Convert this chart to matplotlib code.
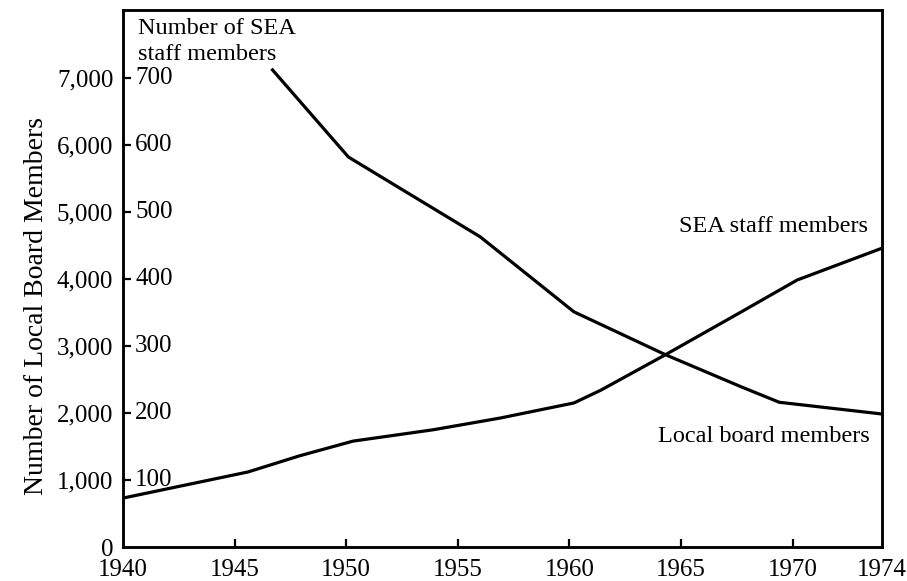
import matplotlib
matplotlib.use("Agg")
import matplotlib.pyplot as plt
import matplotlib.transforms as mtransforms

# Data
local_years = [1946.7, 1950.1, 1956.0, 1960.2, 1964.3, 1967.7, 1969.4, 1974.0]
local_members = [7120, 5820, 4630, 3510, 2870, 2390, 2160, 1985]

sea_years = [1940.0, 1945.6, 1947.9, 1950.3, 1953.9, 1956.9, 1960.2, 1961.4,
             1964.3, 1967.7, 1970.2, 1974.0]
sea_staff = [73, 112, 136, 158, 175, 192.5, 215, 234, 287, 351, 398.5, 446]

x_ticks = [1940, 1945, 1950, 1955, 1960, 1965, 1970, 1974]
local_ticks = [0, 1000, 2000, 3000, 4000, 5000, 6000, 7000]
local_tick_labels = ["0", "1,000", "2,000", "3,000", "4,000", "5,000", "6,000", "7,000"]
staff_ticks = [100, 200, 300, 400, 500, 600, 700]

plt.rcParams['font.family'] = ['Liberation Serif', 'DejaVu Serif']

fig = plt.figure(figsize=(9.07, 5.81), dpi=100)
ax = fig.add_axes([123/907, 34/581, 759/907, 537/581])
ax2 = ax.twinx()

ax.set_xlim(1940, 1974)
ax.set_ylim(0, 8015)
ax2.set_ylim(0, 801.5)

lw = 2.3
ax.plot(local_years, local_members, color='black', lw=lw, solid_joinstyle='round')
ax2.plot(sea_years, sea_staff, color='black', lw=lw, solid_joinstyle='round')

for a in (ax, ax2):
    for s in a.spines.values():
        s.set_linewidth(1.8)
        s.set_color('black')

ax.set_xticks(x_ticks)
ax.set_xticklabels([str(t) for t in x_ticks], fontsize=18)
ax.tick_params(axis='x', direction='in', length=6, width=1.6, pad=9)
ax.set_yticks(local_ticks)
ax.set_yticklabels(local_tick_labels, fontsize=18)
ax.tick_params(axis='y', direction='in', length=6, width=1.6, pad=7)
ax2.set_yticks([])

# hide tick marks at the corners (1940, 1974, 0)
xt = ax.xaxis.get_major_ticks()
xt[0].tick1line.set_visible(False)
xt[-1].tick1line.set_visible(False)
ax.yaxis.get_major_ticks()[0].tick1line.set_visible(False)

# inner staff scale labels
trans = mtransforms.blended_transform_factory(ax2.transAxes, ax2.transData)
for v in staff_ticks:
    ax2.text(0.016, v, str(v), transform=trans, ha='left', va='center', fontsize=18)

ax.set_ylabel("Number of Local Board Members", fontsize=20)
ax.yaxis.set_label_coords(-0.098, 0.449)

ax.text(0.0198, 0.985, "Number of SEA\nstaff members", transform=ax.transAxes,
        ha='left', va='top', fontsize=17.5, linespacing=1.3)
ax.text(0.9816, 0.596, "SEA staff members", transform=ax.transAxes,
        ha='right', va='center', fontsize=17.5)
ax.text(0.984, 0.205, "Local board members", transform=ax.transAxes,
        ha='right', va='center', fontsize=17.5)

fig.savefig("out.png", dpi=100)
